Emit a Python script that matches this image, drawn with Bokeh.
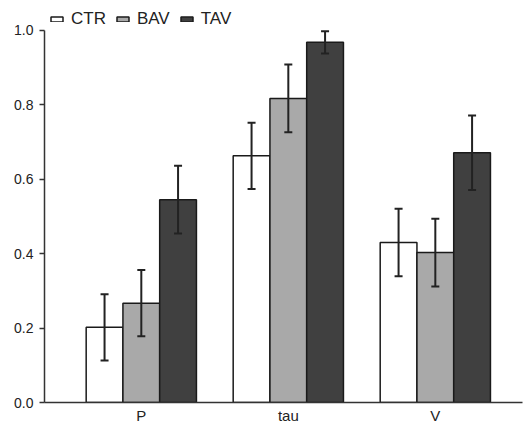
from bokeh.plotting import figure
from bokeh.models import (ColumnDataSource, Range1d, FixedTicker, Whisker, TeeHead,
                          Legend, LegendItem, PrintfTickFormatter)
from bokeh.embed import file_html
from bokeh.resources import INLINE

categories = ["P", "tau", "V"]
series_names = ["CTR", "BAV", "TAV"]
ctr = [0.202, 0.663, 0.430]
ctr_err = [0.089, 0.089, 0.091]
bav = [0.267, 0.817, 0.403]
bav_err = [0.089, 0.091, 0.091]
tav = [0.545, 0.968, 0.671]
tav_err = [0.091, 0.030, 0.100]
y_ticks = [0.0, 0.2, 0.4, 0.6, 0.8, 1.0]

colors = ["#ffffff", "#a9a9a9", "#404040"]
offsets = [-0.25, 0.0, 0.25]
FONT = "Liberation Sans"

p = figure(width=526, height=426, output_backend="svg", toolbar_location=None,
           x_range=Range1d(0.3415, 3.593), y_range=Range1d(0, 1.0642),
           min_border_left=44, min_border_right=4, min_border_top=6,
           min_border_bottom=22)

group_x = list(range(1, len(categories) + 1))
renderers = []
for name, vals, errs, col, off in zip(series_names, [ctr, bav, tav],
                                       [ctr_err, bav_err, tav_err], colors, offsets):
    src = ColumnDataSource(dict(
        x=[g + off for g in group_x], top=vals,
        upper=[v + e for v, e in zip(vals, errs)],
        lower=[v - e for v, e in zip(vals, errs)]))
    r = p.vbar(x="x", top="top", width=0.25, source=src, fill_color=col,
               line_color="#1a1a1a", line_width=1.5)
    renderers.append((name, r))
    w = Whisker(base="x", upper="upper", lower="lower", source=src, level="annotation",
                line_color="#222222", line_width=2,
                upper_head=TeeHead(size=8, line_width=2, line_color="#222222"),
                lower_head=TeeHead(size=8, line_width=2, line_color="#222222"))
    p.add_layout(w)

legend = Legend(items=[LegendItem(label=n, renderers=[r]) for n, r in renderers],
                orientation="horizontal", location=(3, 371),
                glyph_width=15, glyph_height=6, label_standoff=7, spacing=9,
                padding=2, margin=0, background_fill_alpha=0, border_line_alpha=0,
                label_text_font=FONT, label_text_font_size="17px",
                label_text_color="#222222")
p.add_layout(legend)

p.xgrid.visible = False
p.ygrid.visible = False
p.outline_line_color = None

p.xaxis.ticker = FixedTicker(ticks=group_x)
p.xaxis.major_label_overrides = {g: c for g, c in zip(group_x, categories)}
p.xaxis.major_tick_out = 0
p.xaxis.major_tick_in = 0
p.xaxis.minor_tick_out = 0
p.xaxis.minor_tick_in = 0
p.xaxis.major_label_standoff = 4
p.xaxis.major_label_text_font_size = "15px"
p.xaxis.axis_line_color = "#333333"
p.xaxis.axis_line_width = 1.5

p.yaxis.ticker = FixedTicker(ticks=y_ticks)
p.yaxis.bounds = (y_ticks[0], y_ticks[-1])
p.yaxis.formatter = PrintfTickFormatter(format="%.1f")
p.yaxis.major_tick_out = 5
p.yaxis.major_tick_in = 0
p.yaxis.minor_tick_out = 0
p.yaxis.minor_tick_in = 0
p.yaxis.major_label_standoff = 6
p.yaxis.major_label_text_font_size = "14px"
p.yaxis.axis_line_color = "#333333"
p.yaxis.axis_line_width = 1.5
p.yaxis.major_tick_line_color = "#333333"
p.yaxis.major_tick_line_width = 1.5

for ax in (p.xaxis, p.yaxis):
    ax.major_label_text_font = FONT
    ax.major_label_text_color = "#222222"

open("out.html", "w").write(file_html(p, INLINE))
